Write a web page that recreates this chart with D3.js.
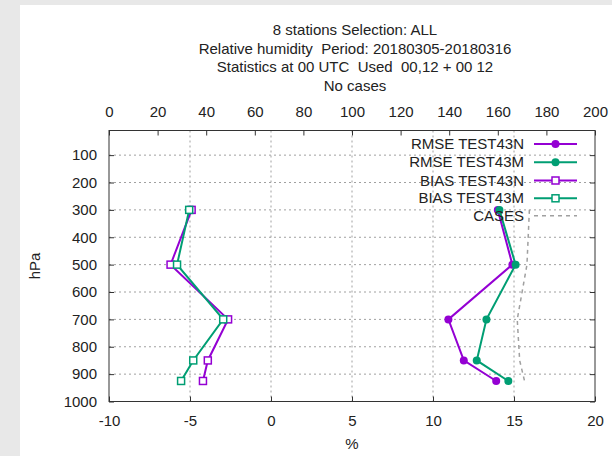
<!DOCTYPE html>
<html>
<head>
<meta charset="utf-8">
<script src="https://cdn.jsdelivr.net/npm/d3@7"></script>
<style>
  body { margin: 0; background: #e8e8e8; }
  svg { display: block; font-family: "Liberation Sans", Arial, sans-serif; }
  text { white-space: pre; }
</style>
</head>
<body>
<svg></svg>
<script>
let levels = [300, 500, 700, 850, 925]
let rmseN = [14.0, 14.9, 10.95, 11.9, 13.9]
let rmseM = [14.1, 15.1, 13.3, 12.7, 14.65]
let biasN = [-4.9, -6.2, -2.65, -3.9, -4.2]
let biasM = [-5.05, -5.8, -2.95, -4.8, -5.55]
let cases = [173, 172, 168, 169, 171]

let yTicks = [100, 200, 300, 400, 500, 600, 700, 800, 900, 1000]
let xTicks = [-10, -5, 0, 5, 10, 15, 20]
let x2Ticks = [0, 20, 40, 60, 80, 100, 120, 140, 160, 180, 200]

let titleLines = [
  "8 stations Selection: ALL",
  "Relative humidity  Period: 20180305-20180316",
  "Statistics at 00 UTC  Used  00,12 + 00 12",
  "No cases"
]

let svgWidth = 612
let svgHeight = 456
let plotLeft = 109, plotRight = 595, plotTop = 130.5, plotBottom = 401.5

let purple = "#9400d3"
let green = "#009e73"
let gridGray = "#a0a0a0"

// THE CONTAINER
let svg = d3.select("svg")
  .attr("width", svgWidth)
  .attr("height", svgHeight)

svg.append("rect")
  .attr("x", 20).attr("y", 5)
  .attr("width", svgWidth - 20).attr("height", svgHeight - 5)
  .attr("fill", "white")

// SCALES
let xScale = d3.scaleLinear().domain([-10, 20]).range([plotLeft, plotRight])
let x2Scale = d3.scaleLinear().domain([0, 200]).range([plotLeft, plotRight])
let yScale = d3.scaleLinear().domain([10, 1000]).range([plotTop, plotBottom])

// GRID
svg.append("g").selectAll("line")
  .data(yTicks.filter(d => d < 1000))
  .enter().append("line")
  .attr("x1", plotLeft).attr("x2", plotRight)
  .attr("y1", d => yScale(d)).attr("y2", d => yScale(d))
  .attr("stroke", gridGray).attr("stroke-width", 1)
  .attr("stroke-dasharray", "2,3")

svg.append("g").selectAll("line")
  .data(xTicks.slice(1, -1))
  .enter().append("line")
  .attr("x1", d => xScale(d)).attr("x2", d => xScale(d))
  .attr("y1", plotTop).attr("y2", plotBottom)
  .attr("stroke", gridGray).attr("stroke-width", 1)
  .attr("stroke-dasharray", "2,3")

// AXES (ticks inside, like gnuplot)
let fontSize = "15px"
let plain = d => String(d)
let styleAxis = g => {
  g.select(".domain").remove()
  g.selectAll(".tick line").attr("stroke", "#333")
  g.selectAll(".tick text").attr("fill", "#222").style("font-size", fontSize)
    .style("font-family", '"Liberation Sans", Arial, sans-serif')
}

svg.append("g")
  .attr("transform", `translate(0, ${plotBottom})`)
  .call(d3.axisBottom(xScale).tickValues(xTicks).tickFormat(plain)
    .tickSizeInner(-5).tickSizeOuter(0).tickPadding(14))
  .call(styleAxis)

svg.append("g")
  .attr("transform", `translate(0, ${plotTop})`)
  .call(d3.axisTop(x2Scale).tickValues(x2Ticks).tickFormat(plain)
    .tickSizeInner(-5).tickSizeOuter(0).tickPadding(14))
  .call(styleAxis)

svg.append("g")
  .attr("transform", `translate(${plotLeft}, 0)`)
  .call(d3.axisLeft(yScale).tickValues(yTicks).tickFormat(plain)
    .tickSizeInner(-5).tickSizeOuter(0).tickPadding(12))
  .call(styleAxis)

svg.append("g")
  .attr("transform", `translate(${plotRight}, 0)`)
  .call(d3.axisRight(yScale).tickValues(yTicks).tickSizeInner(-5).tickSizeOuter(0).tickFormat(""))
  .call(styleAxis)

// BORDER
svg.append("rect")
  .attr("x", plotLeft).attr("y", plotTop)
  .attr("width", plotRight - plotLeft).attr("height", plotBottom - plotTop)
  .attr("fill", "none").attr("stroke", "#333").attr("stroke-width", 1)

// TITLES
svg.append("g").selectAll("text")
  .data(titleLines)
  .enter().append("text")
  .attr("x", 355)
  .attr("y", (d, i) => 35 + i * 18.7)
  .attr("text-anchor", "middle")
  .style("font-size", fontSize)
  .attr("fill", "#222")
  .text(d => d)

svg.append("text")
  .attr("x", (plotLeft + plotRight) / 2).attr("y", 449)
  .attr("text-anchor", "middle").style("font-size", fontSize).attr("fill", "#222")
  .text("%")

svg.append("text")
  .attr("transform", `translate(40, ${(plotTop + plotBottom) / 2}) rotate(-90)`)
  .attr("text-anchor", "middle").style("font-size", fontSize).attr("fill", "#222")
  .text("hPa")

// SERIES
let series = [
  { name: "RMSE TEST43N", values: rmseN, color: purple, marker: "circle" },
  { name: "RMSE TEST43M", values: rmseM, color: green, marker: "circle" },
  { name: "BIAS TEST43N", values: biasN, color: purple, marker: "square" },
  { name: "BIAS TEST43M", values: biasM, color: green, marker: "square" }
]

let line = d3.line()
  .x(d => xScale(d[0]))
  .y(d => yScale(d[1]))

// CASES line on x2 axis
let casesLine = d3.line()
  .x(d => x2Scale(d[0]))
  .y(d => yScale(d[1]))

svg.append("path")
  .datum(cases.map((c, i) => [c, levels[i]]))
  .attr("d", casesLine)
  .attr("fill", "none")
  .attr("stroke", gridGray)
  .attr("stroke-width", 1.5)
  .attr("stroke-dasharray", "4,4")

let drawMarker = (g, s, cx, cy) => {
  if (s.marker === "circle") {
    g.append("circle").attr("cx", cx).attr("cy", cy).attr("r", 4)
      .attr("fill", s.color)
  } else {
    g.append("rect").attr("x", cx - 3.5).attr("y", cy - 3.5)
      .attr("width", 7).attr("height", 7)
      .attr("fill", "white").attr("stroke", s.color).attr("stroke-width", 1.5)
  }
}

series.forEach(s => {
  let pts = s.values.map((v, i) => [v, levels[i]])
  let g = svg.append("g")
  g.append("path")
    .datum(pts)
    .attr("d", line)
    .attr("fill", "none")
    .attr("stroke", s.color)
    .attr("stroke-width", 2)
  pts.forEach(p => drawMarker(g, s, xScale(p[0]), yScale(p[1])))
})

// LEGEND
let legendY = [144, 162.3, 180.5, 198.3, 215.8]
let legendItems = series.concat([{ name: "CASES", color: gridGray, marker: "none" }])

legendItems.forEach((s, i) => {
  let g = svg.append("g")
  let y = legendY[i]
  g.append("text")
    .attr("x", 524).attr("y", y + 5)
    .attr("text-anchor", "end")
    .style("font-size", fontSize).attr("fill", "#222")
    .text(s.name)
  let l = g.append("line")
    .attr("x1", 534).attr("x2", 577)
    .attr("y1", y).attr("y2", y)
    .attr("stroke", s.color)
  if (s.marker === "none") {
    l.attr("stroke-width", 1.5).attr("stroke-dasharray", "4,4")
  } else {
    l.attr("stroke-width", 2)
    drawMarker(g, s, 555.5, y)
  }
})
</script>
</body>
</html>
